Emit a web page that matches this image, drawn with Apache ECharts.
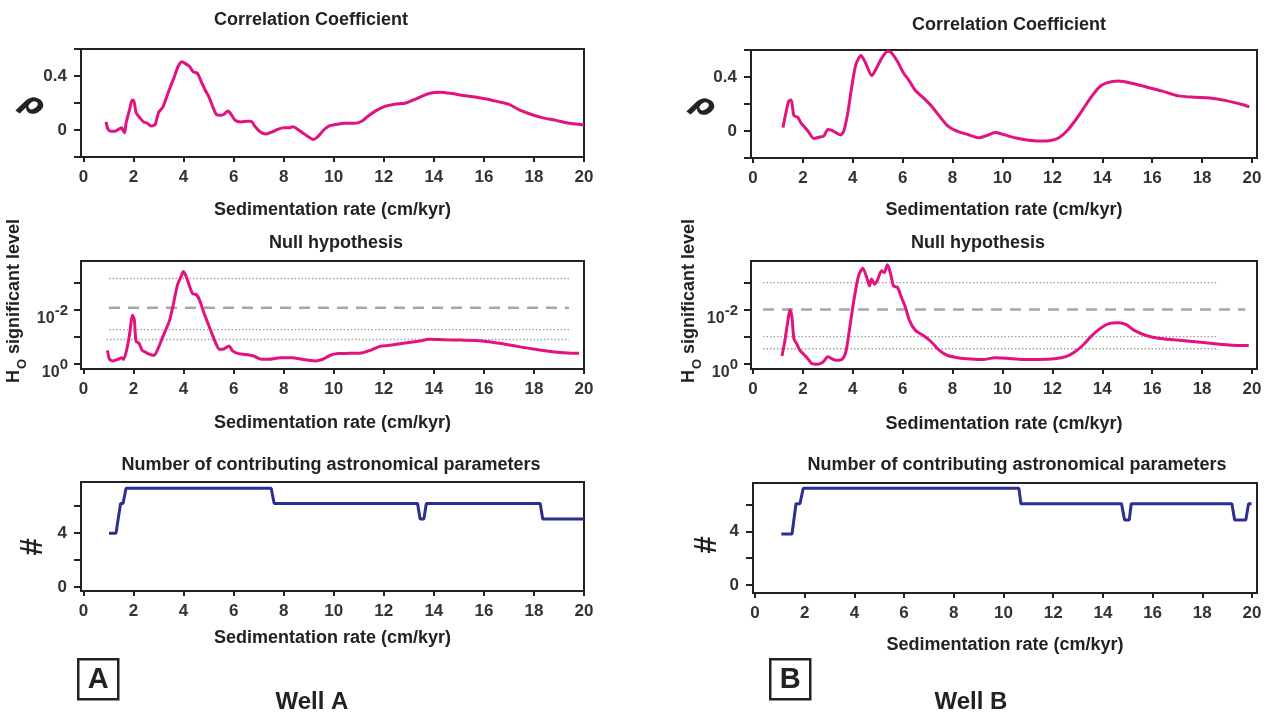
<!DOCTYPE html>
<html>
<head>
<meta charset="utf-8">
<script src="https://cdn.jsdelivr.net/npm/echarts@6.0.0/dist/echarts.min.js"></script>
<style>
  html, body { margin: 0; padding: 0; background: #fff; }
  #main { width: 1267px; height: 713px; }
</style>
</head>
<body>
<div id="main"></div>
<script>
// tick labels shared by every panel
var xTicks = [0, 2, 4, 6, 8, 10, 12, 14, 16, 18, 20];
var corrTicks = [-0.2, 0, 0.2, 0.4, 0.6];
var corrLabels = [0, 0.4];
var nullTicks = [0, 1, 2, 3];
var nullLabels = [0, 2];
var countTicks = [0, 2, 4, 6];
var countLabels = [0, 4];

// Well A - correlation coefficient
var corrRateA = [0.9, 0.98, 1.1, 1.25, 1.4, 1.53, 1.57, 1.64, 1.7, 1.84, 1.94, 2.0, 2.1, 2.25, 2.4, 2.55, 2.7, 2.86, 3.0, 3.17, 3.4, 3.63, 3.78, 3.93, 4.09, 4.24, 4.39, 4.55, 4.7, 4.85, 5.0, 5.16, 5.31, 5.46, 5.6, 5.77, 5.92, 6.07, 6.3, 6.53, 6.69, 6.84, 7.07, 7.3, 7.53, 7.76, 7.99, 8.22, 8.37, 8.52, 8.75, 8.98, 9.18, 9.36, 9.6, 9.82, 10.05, 10.44, 10.82, 11.12, 11.35, 11.66, 11.97, 12.43, 12.88, 13.34, 13.8, 14.26, 14.72, 15.18, 15.64, 16.1, 16.56, 17.0, 17.46, 17.9, 18.36, 18.85, 19.3, 20.0];
var corrA = [0.06, 0.005, -0.01, -0.01, 0.005, 0.017, 0, -0.02, 0.05, 0.15, 0.22, 0.22, 0.13, 0.09, 0.06, 0.05, 0.03, 0.04, 0.13, 0.17, 0.285, 0.395, 0.47, 0.505, 0.49, 0.47, 0.43, 0.42, 0.36, 0.30, 0.25, 0.175, 0.115, 0.11, 0.115, 0.14, 0.11, 0.07, 0.06, 0.065, 0.065, 0.03, -0.015, -0.03, -0.015, 0.005, 0.017, 0.017, 0.024, 0.01, -0.02, -0.05, -0.07, -0.05, 0, 0.03, 0.04, 0.05, 0.05, 0.065, 0.1, 0.14, 0.17, 0.19, 0.2, 0.235, 0.27, 0.28, 0.27, 0.255, 0.245, 0.23, 0.21, 0.19, 0.145, 0.115, 0.09, 0.073, 0.054, 0.037];

// Well A - null hypothesis, stored as -log10(level)
var nullRateA = [0.96, 1.04, 1.18, 1.38, 1.53, 1.6, 1.73, 1.83, 1.96, 2.03, 2.1, 2.22, 2.34, 2.52, 2.72, 2.83, 2.98, 3.13, 3.29, 3.44, 3.59, 3.75, 3.9, 3.99, 4.1, 4.24, 4.36, 4.51, 4.63, 4.79, 4.94, 5.12, 5.28, 5.43, 5.58, 5.81, 5.96, 6.19, 6.5, 6.8, 7.11, 7.42, 7.87, 8.33, 8.79, 9.25, 9.56, 9.86, 10.17, 10.63, 11.09, 11.39, 11.85, 12.16, 12.77, 13.38, 13.84, 14.45, 15.06, 15.67, 16.28, 16.9, 17.5, 18.12, 18.73, 19.34, 19.8];
var nullA = [0.49, 0.16, 0.1, 0.16, 0.22, 0.15, 0.53, 1.02, 1.79, 1.63, 0.83, 0.75, 0.5, 0.4, 0.32, 0.31, 0.56, 0.9, 1.26, 1.6, 2.2, 2.9, 3.23, 3.41, 3.23, 2.86, 2.59, 2.55, 2.37, 1.94, 1.57, 1.14, 0.77, 0.53, 0.53, 0.65, 0.47, 0.37, 0.34, 0.28, 0.16, 0.16, 0.22, 0.22, 0.15, 0.1, 0.16, 0.31, 0.37, 0.38, 0.39, 0.47, 0.64, 0.67, 0.75, 0.83, 0.9, 0.88, 0.87, 0.86, 0.8, 0.71, 0.61, 0.52, 0.44, 0.39, 0.38];
var levelsA = [3.15, 2.07, 1.26, 0.89];
var levelStartA = [1.02, 1.02, 1.02, 0.92];
var levelEndA = [19.4, 19.4, 19.4, 19.4];

// Well A - number of contributing parameters
var countRateA = [1.02, 1.3, 1.48, 1.58, 1.7, 7.5, 7.62, 13.35, 13.45, 13.6, 13.7, 18.25, 18.35, 20];
var countA = [4, 4, 6.2, 6.2, 7.33, 7.33, 6.2, 6.2, 5.05, 5.05, 6.2, 6.2, 5.05, 5.05];

// Well B - correlation coefficient
var corrRateB = [1.2, 1.32, 1.43, 1.53, 1.64, 1.8, 1.92, 2.04, 2.2, 2.44, 2.68, 2.84, 3.0, 3.16, 3.32, 3.51, 3.64, 3.8, 3.96, 4.12, 4.33, 4.52, 4.76, 4.92, 5.16, 5.4, 5.55, 5.79, 6.03, 6.27, 6.51, 6.83, 7.15, 7.47, 7.79, 8.1, 8.59, 9.07, 9.39, 9.7, 10.02, 10.5, 10.98, 11.46, 11.94, 12.26, 12.58, 12.9, 13.22, 13.53, 13.85, 14.17, 14.65, 15.13, 15.77, 16.41, 17.05, 17.69, 18.32, 18.96, 19.6, 19.89];
var corrB = [0.025, 0.135, 0.22, 0.23, 0.115, 0.1, 0.06, 0.035, 0, -0.056, -0.044, -0.037, 0.012, 0.005, -0.012, -0.03, 0, 0.135, 0.33, 0.49, 0.56, 0.5, 0.41, 0.455, 0.54, 0.59, 0.58, 0.515, 0.43, 0.37, 0.30, 0.245, 0.185, 0.11, 0.04, 0.005, -0.025, -0.05, -0.032, -0.012, -0.025, -0.05, -0.066, -0.074, -0.07, -0.05, 0, 0.074, 0.16, 0.245, 0.32, 0.356, 0.37, 0.356, 0.326, 0.295, 0.26, 0.25, 0.245, 0.225, 0.196, 0.18];

// Well B - null hypothesis
var nullRateB = [1.16, 1.28, 1.4, 1.48, 1.56, 1.64, 1.75, 1.88, 2.04, 2.2, 2.36, 2.6, 2.81, 3.0, 3.16, 3.32, 3.56, 3.72, 3.88, 4.04, 4.23, 4.4, 4.56, 4.67, 4.75, 4.88, 4.99, 5.15, 5.26, 5.39, 5.52, 5.63, 5.79, 5.95, 6.11, 6.27, 6.51, 6.83, 7.15, 7.47, 7.78, 8.26, 8.74, 9.22, 9.7, 10.18, 10.81, 11.45, 12.09, 12.57, 12.89, 13.21, 13.52, 13.84, 14.24, 14.64, 14.96, 15.28, 15.76, 16.24, 16.87, 17.51, 18.15, 18.79, 19.43, 19.87];
var nullB = [0.28, 0.86, 1.6, 1.99, 1.72, 0.92, 0.74, 0.49, 0.34, 0.18, 0, -0.02, 0.06, 0.25, 0.18, 0.12, 0.15, 0.43, 1.35, 2.33, 3.25, 3.53, 3.19, 2.88, 3.13, 2.94, 3.09, 3.44, 3.37, 3.66, 3.31, 2.88, 2.82, 2.45, 2.09, 1.6, 1.23, 1.04, 0.8, 0.49, 0.31, 0.21, 0.17, 0.15, 0.22, 0.2, 0.15, 0.15, 0.18, 0.27, 0.43, 0.67, 0.98, 1.25, 1.47, 1.51, 1.44, 1.23, 1.04, 0.94, 0.88, 0.83, 0.77, 0.71, 0.67, 0.67];
var levelsB = [3.0, 2.0, 1.0, 0.55];
var levelStartB = [0.4, 0.4, 0.4, 0.4];
var levelEndB = [18.65, 19.73, 18.65, 18.65];

// Well B - number of contributing parameters
var countRateB = [1.06, 1.49, 1.65, 1.81, 1.94, 10.62, 10.7, 14.75, 14.87, 15.06, 15.14, 19.19, 19.3, 19.75, 19.86, 19.98];
var countB = [3.8, 3.8, 6.05, 6.05, 7.2, 7.2, 6.05, 6.05, 4.85, 4.85, 6.05, 6.05, 4.85, 4.85, 6.05, 6.05];

var FONT = "'Liberation Sans', Arial, sans-serif";
var MAGENTA = '#e2127f';
var NAVY = '#2b2f91';
var XNAME = 'Sedimentation rate (cm/kyr)';

function zip(xs, ys) {
    var out = [];
    for (var i = 0; i < xs.length; i++) {
        out.push([xs[i], ys[i]]);
    }
    return out;
}

function each(arr, fn) {
    for (var i = 0; i < arr.length; i++) fn(i, arr[i]);
}

// panel boxes in pixels
var panels = [
    { left: 81, top: 49, width: 503, height: 108, xmin: -0.1, xmax: 20, nameGap: 44, title: 'Correlation Coefficient', tx: 311, ty: 11 },
    { left: 81, top: 261, width: 503, height: 108, xmin: -0.1, xmax: 20, nameGap: 45, title: 'Null hypothesis', tx: 336, ty: 234 },
    { left: 81, top: 482, width: 503, height: 109, xmin: -0.1, xmax: 20, nameGap: 38, title: 'Number of contributing astronomical parameters', tx: 331, ty: 456 },
    { left: 751, top: 50, width: 506, height: 108, xmin: -0.08, xmax: 20.2, nameGap: 43, title: 'Correlation Coefficient', tx: 1009, ty: 16 },
    { left: 751, top: 261, width: 506, height: 108, xmin: -0.08, xmax: 20.2, nameGap: 46, title: 'Null hypothesis', tx: 978, ty: 234 },
    { left: 753, top: 483, width: 504, height: 110, xmin: -0.08, xmax: 20.2, nameGap: 43, title: 'Number of contributing astronomical parameters', tx: 1017, ty: 456 }
];

var grids = [], xAxes = [], yAxes = [], titles = [];

each(panels, function (i, p) {
    grids.push({ left: p.left, top: p.top, width: p.width, height: p.height, show: true, borderColor: '#222', borderWidth: 2, backgroundColor: 'transparent' });
    titles.push({ text: p.title, left: p.tx, top: p.ty, textAlign: 'center', padding: 0, textStyle: { fontFamily: FONT, fontSize: 18, fontWeight: 'bold', color: '#222' } });
    xAxes.push({
        gridIndex: i, type: 'value', min: p.xmin, max: p.xmax,
        axisLine: { show: true, onZero: false, lineStyle: { color: '#222', width: 2 } },
        axisTick: { show: true, customValues: xTicks, length: 5, lineStyle: { color: '#222', width: 2 } },
        axisLabel: { customValues: xTicks, margin: 12, fontFamily: FONT, fontSize: 17, fontWeight: 'bold', color: '#333' },
        splitLine: { show: false },
        name: XNAME, nameLocation: 'middle', nameGap: p.nameGap,
        nameTextStyle: { fontFamily: FONT, fontSize: 18, fontWeight: 'bold', color: '#222' }
    });
});

function yBase(i) {
    return {
        gridIndex: i, type: 'value',
        axisLine: { show: true, onZero: false, lineStyle: { color: '#222', width: 2 } },
        axisTick: { show: true, length: 7, lineStyle: { color: '#222', width: 2 } },
        axisLabel: { margin: 14, fontFamily: FONT, fontSize: 17, fontWeight: 'bold', color: '#333' },
        splitLine: { show: false }
    };
}

function corrAxis(i) {
    var a = yBase(i);
    a.min = -0.2; a.max = 0.6;
    a.axisTick.customValues = corrTicks;
    a.axisLabel.customValues = corrLabels;
    a.axisLabel.formatter = function (v) { return v === 0 ? '0' : String(v); };
    return a;
}

function nullAxis(i) {
    var a = yBase(i);
    a.min = -0.2; a.max = 3.8;
    a.axisTick.customValues = nullTicks;
    a.axisLabel.customValues = nullLabels;
    a.axisLabel.margin = 13;
    a.axisLabel.padding = [10, 0, 0, 0];
    a.axisLabel.formatter = function (v) { return '{b|10}{s|' + (v === 0 ? '0' : '-' + v) + '}'; };
    a.axisLabel.rich = {
        b: { fontFamily: FONT, fontSize: 16, fontWeight: 'bold', color: '#333', padding: [7, 0, 0, 0], verticalAlign: 'bottom' },
        s: { fontFamily: FONT, fontSize: 15, fontWeight: 'bold', color: '#333', verticalAlign: 'top' }
    };
    return a;
}

function countAxis(i, min, max) {
    var a = yBase(i);
    a.min = min; a.max = max;
    a.axisTick.customValues = countTicks;
    a.axisLabel.customValues = countLabels;
    return a;
}

yAxes.push(corrAxis(0), nullAxis(1), countAxis(2, -0.3, 7.8), corrAxis(3), nullAxis(4), countAxis(5, -0.6, 7.6));

var series = [];

function curve(i, xs, ys, color) {
    series.push({
        type: 'line', xAxisIndex: i, yAxisIndex: i, data: zip(xs, ys),
        showSymbol: false, smooth: 0.25, lineStyle: { color: color, width: 3 }, z: 5
    });
}

function steps(i, xs, ys) {
    series.push({
        type: 'line', xAxisIndex: i, yAxisIndex: i, data: zip(xs, ys),
        showSymbol: false, lineStyle: { color: NAVY, width: 3 }, z: 5
    });
}

function levels(i, lv, x0, x1) {
    each(lv, function (k, v) {
        var dashed = (k === 1);
        series.push({
            type: 'line', xAxisIndex: i, yAxisIndex: i,
            data: [[x0[k], v], [x1[k], v]], showSymbol: false, silent: true, z: 2,
            lineStyle: dashed ? { color: '#a6a6a6', width: 2.5, type: [11, 8] } : { color: '#a0a0a0', width: 1.4, type: [1.5, 2] }
        });
    });
}

levels(1, levelsA, levelStartA, levelEndA);
levels(4, levelsB, levelStartB, levelEndB);
curve(0, corrRateA, corrA, MAGENTA);
curve(1, nullRateA, nullA, MAGENTA);
steps(2, countRateA, countA);
curve(3, corrRateB, corrB, MAGENTA);
curve(4, nullRateB, nullB, MAGENTA);
steps(5, countRateB, countB);

// y axis names are drawn as rotated text so they sit where the figure has them
function rho(x, y) {
    return { type: 'text', x: x, y: y, rotation: -35 * Math.PI / 180,
        style: { text: 'ρ', font: 'italic bold 30px DejaVu Sans', fill: '#222', align: 'center', verticalAlign: 'middle' } };
}
function hash(x, y) {
    return { type: 'text', x: x, y: y, rotation: Math.PI / 2,
        style: { text: '#', font: 'bold 31px ' + FONT, fill: '#222', align: 'center', verticalAlign: 'middle' } };
}
function hLabel(x, y) {
    return { type: 'text', x: x, y: y, rotation: Math.PI / 2,
        style: {
            text: '{m|H}{sub|O}{m| significant level}', align: 'center', verticalAlign: 'middle',
            rich: {
                m: { fontFamily: FONT, fontSize: 18, fontWeight: 'bold', fill: '#222', verticalAlign: 'top' },
                sub: { fontFamily: FONT, fontSize: 13, fontWeight: 'bold', fill: '#222', padding: [10, 0, 0, 1], verticalAlign: 'bottom' }
            }
        } };
}

// boxed panel letters and well names
function letterBox(x, y, letter) {
    return {
        type: 'group', left: x, top: y,
        children: [
            { type: 'rect', shape: { x: 0, y: 0, width: 40, height: 40 }, style: { fill: '#fff', stroke: '#222', lineWidth: 2.5 } },
            { type: 'text', x: 20, y: 21, style: { text: letter, font: 'bold 29px ' + FONT, fill: '#222', align: 'center', verticalAlign: 'middle' } }
        ]
    };
}

var myChart = echarts.init(document.getElementById('main'), null, { renderer: 'canvas' });
myChart.setOption({
    animation: false,
    backgroundColor: '#fff',
    title: titles,
    grid: grids,
    xAxis: xAxes,
    yAxis: yAxes,
    series: series,
    graphic: [
        rho(32, 105), rho(703, 106),
        hLabel(17, 301), hLabel(692, 301),
        hash(33, 547), hash(707, 545),
        letterBox(77, 658, 'A'),
        letterBox(769, 658, 'B'),
        { type: 'text', x: 312, y: 702, style: { text: 'Well A', font: 'bold 24px ' + FONT, fill: '#222', align: 'center', verticalAlign: 'middle' } },
        { type: 'text', x: 971, y: 702, style: { text: 'Well B', font: 'bold 24px ' + FONT, fill: '#222', align: 'center', verticalAlign: 'middle' } }
    ]
});
</script>
</body>
</html>
